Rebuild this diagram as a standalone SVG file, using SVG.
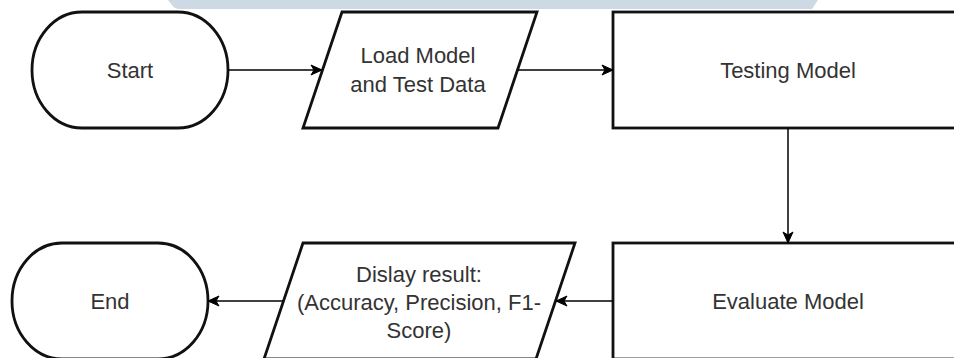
<svg xmlns="http://www.w3.org/2000/svg" width="954" height="358" viewBox="0 0 954 358">
  <defs>
    <marker id="arr" markerUnits="userSpaceOnUse" markerWidth="14" markerHeight="12" viewBox="0 0 14 12" refX="12" refY="6" orient="auto">
      <path d="M1,1 L12,6 L1,11 L4,6 Z" fill="#000" stroke="#000" stroke-width="1"/>
    </marker>
  </defs>
  <style>
    .shape { fill: #fff; stroke: #111; stroke-width: 2.8; }
    .conn { fill: none; stroke: #000; stroke-width: 1.5; marker-end: url(#arr); }
    .lbl { font-family: "Liberation Sans", Arial, sans-serif; font-size: 22px; fill: #333; text-anchor: middle; }
  </style>
  <rect width="954" height="358" fill="#fff"/>
  <path d="M168,0 L818,0 L812,9 L180,9 Q174,9 172,5 Z" fill="#cdd9e4"/>

  <g id="start">
    <rect class="shape" x="32" y="12" width="196" height="116" rx="50" ry="58"/>
    <text class="lbl" x="130" y="78">Start</text>
  </g>
  <g id="load">
    <polygon class="shape" points="342,12 537,12 498,128 303,128"/>
    <text class="lbl" x="418" y="63">Load Model</text>
    <text class="lbl" x="418" y="92">and Test Data</text>
  </g>
  <g id="testing">
    <rect class="shape" x="613" y="12" width="350" height="116"/>
    <text class="lbl" x="788" y="78">Testing Model</text>
  </g>
  <g id="evaluate">
    <rect class="shape" x="613" y="243" width="350" height="116"/>
    <text class="lbl" x="788" y="309">Evaluate Model</text>
  </g>
  <g id="display">
    <polygon class="shape" points="303,243 575,243 536,359 264,359"/>
    <text class="lbl" x="419" y="282">Dislay result:</text>
    <text class="lbl" x="419" y="310">(Accuracy, Precision, F1-</text>
    <text class="lbl" x="419" y="338">Score)</text>
  </g>
  <g id="end">
    <rect class="shape" x="12" y="243" width="196" height="116" rx="50" ry="58"/>
    <text class="lbl" x="110" y="309">End</text>
  </g>

  <g id="connectors">
    <line class="conn" x1="228" y1="70" x2="322" y2="70"/>
    <line class="conn" x1="518" y1="70" x2="613" y2="70"/>
    <line class="conn" x1="788" y1="128" x2="788" y2="243"/>
    <line class="conn" x1="613" y1="301" x2="556" y2="301"/>
    <line class="conn" x1="283" y1="301" x2="208" y2="301"/>
  </g>
</svg>
